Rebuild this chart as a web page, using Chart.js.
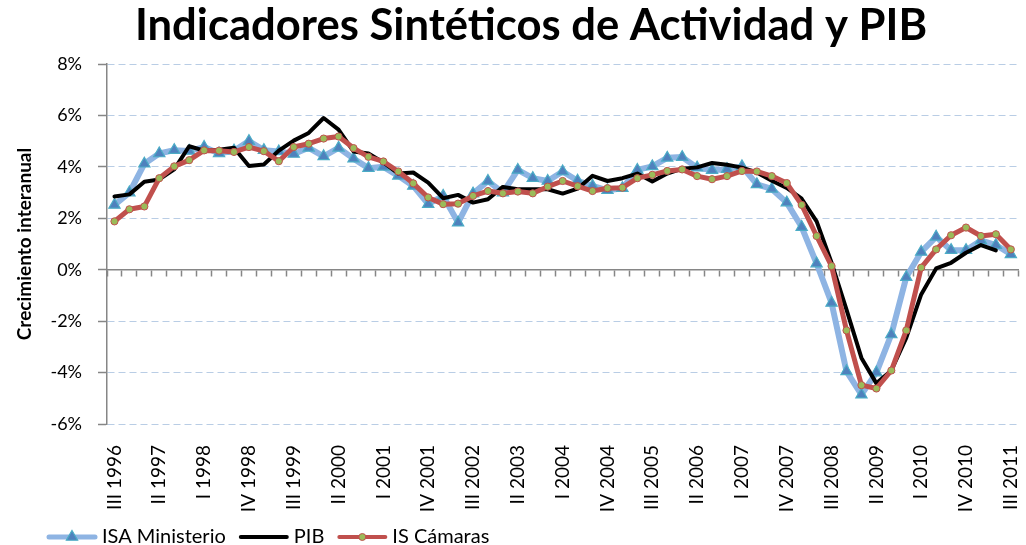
<!DOCTYPE html>
<html><head><meta charset="utf-8">
<script src="https://cdn.jsdelivr.net/npm/chart.js@4.4.1/dist/chart.umd.min.js"></script>
<style>html,body{margin:0;padding:0;background:#fff;}#wrap{width:1026px;height:545px;}</style>
</head><body><div id="wrap"><canvas id="c" width="1026" height="545"></canvas></div>
<script>
const quarters = [
 'III 1996','IV 1996',
 'I 1997','II 1997','III 1997','IV 1997',
 'I 1998','II 1998','III 1998','IV 1998',
 'I 1999','II 1999','III 1999','IV 1999',
 'I 2000','II 2000','III 2000','IV 2000',
 'I 2001','II 2001','III 2001','IV 2001',
 'I 2002','II 2002','III 2002','IV 2002',
 'I 2003','II 2003','III 2003','IV 2003',
 'I 2004','II 2004','III 2004','IV 2004',
 'I 2005','II 2005','III 2005','IV 2005',
 'I 2006','II 2006','III 2006','IV 2006',
 'I 2007','II 2007','III 2007','IV 2007',
 'I 2008','II 2008','III 2008','IV 2008',
 'I 2009','II 2009','III 2009','IV 2009',
 'I 2010','II 2010','III 2010','IV 2010',
 'I 2011','II 2011','III 2011'
];
const tickLabels = ['III 1996','II 1997','I 1998','IV 1998','III 1999','II 2000','I 2001','IV 2001','III 2002','II 2003','I 2004','IV 2004','III 2005','II 2006','I 2007','IV 2007','III 2008','II 2009','I 2010','IV 2010','III 2011'];

const isaMinisterio = [2.52,3.00,4.12,4.52,4.65,4.62,4.77,4.52,4.63,5.00,4.65,4.60,4.50,4.74,4.41,4.74,4.32,3.95,4.00,3.65,3.26,2.55,2.87,1.83,2.96,3.45,3.00,3.88,3.56,3.45,3.82,3.46,3.26,3.09,3.17,3.88,4.02,4.35,4.38,3.97,3.87,3.91,4.02,3.32,3.14,2.61,1.66,0.24,-1.29,-3.95,-4.86,-4.00,-2.52,-0.29,0.69,1.28,0.76,0.76,1.14,0.96,0.60];
const pib = [2.85,2.93,3.42,3.51,3.90,4.80,4.63,4.67,4.74,4.03,4.09,4.63,5.02,5.32,5.90,5.45,4.60,4.52,4.17,3.74,3.78,3.39,2.78,2.91,2.61,2.74,3.22,3.13,3.13,3.13,2.96,3.15,3.65,3.45,3.56,3.74,3.43,3.74,3.93,3.98,4.15,4.08,3.97,3.78,3.46,3.18,2.76,1.88,0.27,-1.55,-3.43,-4.42,-3.92,-2.65,-0.96,0.05,0.27,0.66,0.96,0.75,null];
const isCamaras = [1.88,2.35,2.46,3.56,4.02,4.26,4.64,4.63,4.58,4.77,4.61,4.22,4.77,4.90,5.10,5.18,4.73,4.39,4.21,3.82,3.36,2.81,2.55,2.57,2.87,3.06,2.97,3.04,2.97,3.23,3.45,3.25,3.06,3.17,3.19,3.56,3.69,3.84,3.90,3.64,3.52,3.64,3.84,3.82,3.64,3.37,2.52,1.31,0.14,-2.36,-4.49,-4.62,-3.92,-2.36,0.08,0.79,1.34,1.64,1.31,1.38,0.79];

const titleText = 'Indicadores Sintéticos de Actividad y PIB';
const yTitle = 'Crecimiento interanual';
const seriesNames = ['ISA Ministerio','PIB','IS Cámaras'];

const C_ISA = '#8eb4e3', C_ISA_PT = '#4f81bd', C_ISA_PB = '#4bacc6';
const C_PIB = '#000000';
const C_CAM = '#c0504d', C_CAM_PT = '#9bbb59';
const AXIS = '#868686';

const extras = {
  id: 'extras',
  afterDraw(chart) {
    const ctx = chart.ctx;
    ctx.save();
    // title
    ctx.fillStyle = '#000';
    ctx.font = 'bold 35px Lato';
    const w = ctx.measureText(titleText).width;
    const size = 35 * 793 / w;
    ctx.font = 'bold ' + size.toFixed(1) + 'px Lato';
    ctx.textAlign = 'center';
    ctx.textBaseline = 'alphabetic';
    ctx.fillText(titleText, 531, 40);
    // legend
    const y = 537;
    let x = 47;
    ctx.font = '20px Lato';
    ctx.textAlign = 'left';
    ctx.textBaseline = 'middle';
    const items = [
      {name: seriesNames[0], color: C_ISA, width: 5, marker: 'tri'},
      {name: seriesNames[1], color: C_PIB, width: 4, marker: null},
      {name: seriesNames[2], color: C_CAM, width: 4, marker: 'circ'}
    ];
    items.forEach(it => {
      ctx.strokeStyle = it.color; ctx.lineWidth = it.width; ctx.lineCap = 'round';
      ctx.beginPath(); ctx.moveTo(x + 2, y); ctx.lineTo(x + 48, y); ctx.stroke();
      const cx = x + 25;
      if (it.marker === 'tri') {
        const r = 6.5;
        ctx.beginPath();
        ctx.moveTo(cx, y - r);
        ctx.lineTo(cx + r * 0.866, y + r * 0.5);
        ctx.lineTo(cx - r * 0.866, y + r * 0.5);
        ctx.closePath();
        ctx.fillStyle = C_ISA_PT; ctx.fill();
        ctx.lineWidth = 1.2; ctx.strokeStyle = C_ISA_PB; ctx.stroke();
      } else if (it.marker === 'circ') {
        ctx.beginPath(); ctx.arc(cx, y, 3.5, 0, Math.PI * 2);
        ctx.fillStyle = C_CAM_PT; ctx.fill();
        ctx.lineWidth = 1; ctx.strokeStyle = C_CAM; ctx.stroke();
      }
      ctx.fillStyle = '#000';
      ctx.fillText(it.name, x + 55, y);
      x += 55 + ctx.measureText(it.name).width + 13;
    });
    ctx.restore();
  }
};

new Chart(document.getElementById('c'), {
  type: 'line',
  data: {
    labels: quarters,
    datasets: [
      {label: seriesNames[0], data: isaMinisterio, order: 3, borderColor: C_ISA, borderWidth: 6,
       borderJoinStyle: 'round', borderCapStyle: 'round', tension: 0,
       pointStyle: 'triangle', pointRadius: 6.5, pointBackgroundColor: C_ISA_PT, pointBorderColor: C_ISA_PB, pointBorderWidth: 1.2},
      {label: seriesNames[1], data: pib, order: 2, borderColor: C_PIB, borderWidth: 4,
       borderJoinStyle: 'round', borderCapStyle: 'round', tension: 0, pointRadius: 0, spanGaps: false},
      {label: seriesNames[2], data: isCamaras, order: 1, borderColor: C_CAM, borderWidth: 5,
       borderJoinStyle: 'round', borderCapStyle: 'round', tension: 0,
       pointStyle: 'circle', pointRadius: 3.6, pointBackgroundColor: C_CAM_PT, pointBorderColor: C_CAM, pointBorderWidth: 1}
    ]
  },
  options: {
    responsive: false, animation: false, devicePixelRatio: 1,
    layout: {padding: {top: 64, right: 4, bottom: 30, left: 0}},
    plugins: {legend: {display: false}, title: {display: false}, tooltip: {enabled: false}},
    scales: {
      x: {
        type: 'category', position: 'bottom', offset: true,
        grid: {display: false, drawTicks: false},
        border: {display: false},
        ticks: {autoSkip: false, minRotation: 90, maxRotation: 90, padding: 21, color: '#000',
          font: {family: 'Lato', size: 19},
          callback: (v, i) => tickLabels.includes(quarters[i]) ? quarters[i] : ''},
        afterFit: (s) => { s.height = 91; s.paddingLeft = 0; s.paddingRight = 0; }
      },
      x0: {
        type: 'category', position: {y: 0}, offset: true,
        grid: {display: true, offset: true, drawOnChartArea: false, drawTicks: true, tickLength: 6,
          color: AXIS, tickColor: AXIS, tickWidth: 1.5},
        border: {display: true, color: AXIS, width: 1.5},
        ticks: {display: false},
        afterFit: (s) => { s.paddingLeft = 0; s.paddingRight = 0; }
      },
      y: {
        min: -6, max: 8,
        ticks: {stepSize: 2, padding: 16, color: '#000', font: {family: 'Lato', size: 18},
          callback: v => v + '%'},
        grid: {color: '#b9cde5', lineWidth: 1, tickLength: 9, tickColor: AXIS, tickWidth: 1.5, tickBorderDash: []},
        border: {display: true, color: AXIS, width: 1.5, dash: [7, 4]},
        title: {display: true, text: yTitle, color: '#000', font: {family: 'Lato', size: 19, weight: 'bold'}, padding: {top: 13, bottom: 0}},
        afterFit: (s) => { s.width = 107; }
      }
    }
  },
  plugins: [extras]
});
</script>
</body></html>
